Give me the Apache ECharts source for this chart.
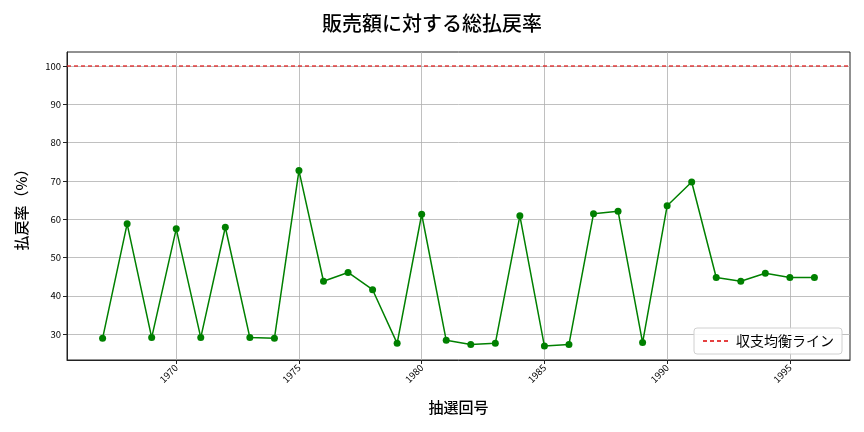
<!DOCTYPE html>
<html>
<head>
<meta charset="utf-8">
<title>販売額に対する総払戻率</title>
<script src="https://cdn.jsdelivr.net/npm/echarts@6/dist/echarts.min.js"></script>
<style>
  html, body { margin: 0; padding: 0; background: #fff; }
  #main { width: 864px; height: 432px; }
</style>
</head>
<body>
<div id="main"></div>
<script>
// 抽選回号（年）と払戻率（%）
var years = [1967, 1968, 1969, 1970, 1971, 1972, 1973, 1974, 1975, 1976,
             1977, 1978, 1979, 1980, 1981, 1982, 1983, 1984, 1985, 1986,
             1987, 1988, 1989, 1990, 1991, 1992, 1993, 1994, 1995, 1996]
var rates = [28.9, 58.8, 29.1, 57.5, 29.1, 57.9, 29.1, 28.9, 72.7, 43.8,
             46.1, 41.6, 27.6, 61.3, 28.4, 27.3, 27.6, 60.9, 26.9, 27.3,
             61.4, 62.1, 27.8, 63.5, 69.7, 44.8, 43.8, 45.9, 44.8, 44.8]
var xTicks = [1970, 1975, 1980, 1985, 1990, 1995]
var yTicks = [30, 40, 50, 60, 70, 80, 90, 100]
var breakEven = 100

var font = '"Noto Sans CJK JP", "Noto Sans", sans-serif'
var points = []
for (var i = 0; i < years.length; i++) {
    points.push([years[i], rates[i]])
}

var red = 'rgba(225,30,30,0.85)'

var myChart = echarts.init(document.getElementById('main'))
var option = {
    animation: false,
    textStyle: { fontFamily: font },
    title: {
        text: '販売額に対する総払戻率',
        left: 'center',
        top: 8,
        textStyle: { fontFamily: font, fontSize: 20, fontWeight: 500, color: '#000' }
    },
    legend: {
        data: ['収支均衡ライン'],
        right: 22,
        bottom: 78,
        orient: 'vertical',
        itemWidth: 28,
        itemHeight: 10,
        padding: [6, 8],
        borderColor: '#d0d0d0',
        borderWidth: 1,
        borderRadius: 3,
        backgroundColor: 'rgba(255,255,255,0.85)',
        itemStyle: { opacity: 0 },
        textStyle: { fontFamily: font, fontSize: 14, color: '#000' }
    },
    grid: {
        left: 67, right: 14, top: 52, bottom: 72,
        show: true,
        borderColor: '#222',
        borderWidth: 1
    },
    xAxis: {
        type: 'value',
        min: 1965.55,
        max: 1997.45,
        name: '抽選回号',
        nameLocation: 'middle',
        nameGap: 40,
        nameTextStyle: { fontFamily: font, fontSize: 15, fontWeight: 500, color: '#000' },
        axisLine: { show: true, lineStyle: { color: '#222' } },
        axisTick: { show: true, length: 4, customValues: xTicks, lineStyle: { color: '#222' } },
        axisLabel: {
            customValues: xTicks,
            rotate: 45,
            fontSize: 9.5,
            color: '#000',
            margin: 6,
            formatter: function (v) { return String(v) }
        },
        splitLine: { show: true, lineStyle: { color: '#b0b0b0', width: 0.8 } }
    },
    yAxis: {
        type: 'value',
        min: 23.25,
        max: 103.65,
        name: '払戻率（%）',
        nameLocation: 'middle',
        nameGap: 38,
        nameTextStyle: { fontFamily: font, fontSize: 15, fontWeight: 500, color: '#000' },
        axisLine: { show: true, lineStyle: { color: '#222' } },
        axisTick: { show: true, length: 4, customValues: yTicks, lineStyle: { color: '#222' } },
        axisLabel: { customValues: yTicks, fontSize: 9.5, color: '#000', margin: 6 },
        splitLine: { show: true, lineStyle: { color: '#b0b0b0', width: 0.8 } }
    },
    series: [
        {
            name: '払戻率',
            type: 'line',
            data: points,
            symbol: 'circle',
            symbolSize: 7,
            itemStyle: { color: '#008000' },
            lineStyle: { color: '#008000', width: 1.5 }
        },
        {
            name: '収支均衡ライン',
            type: 'line',
            data: [],
            symbol: 'none',
            itemStyle: { color: red },
            lineStyle: { color: red, type: [4, 3], width: 1.5 },
            markLine: {
                silent: true,
                symbol: 'none',
                label: { show: false },
                lineStyle: { color: red, type: [4, 3], width: 1.5 },
                data: [{ yAxis: breakEven }]
            }
        }
    ]
}
myChart.setOption(option)
</script>
</body>
</html>
